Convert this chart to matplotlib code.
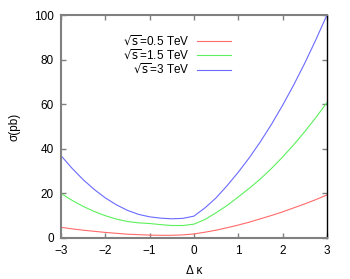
import matplotlib
matplotlib.use("Agg")
import matplotlib.pyplot as plt

plt.rcParams['font.family'] = ['Liberation Sans', 'DejaVu Sans']
plt.rcParams['mathtext.fontset'] = 'dejavusans'

# delta kappa grid and cross sections (pb)
dkappa = [-3.0, -2.75, -2.5, -2.25, -2.0, -1.75, -1.5, -1.25, -1.0, -0.75, -0.5, -0.25, 0.0,
          0.25, 0.5, 0.75, 1.0, 1.25, 1.5, 1.75, 2.0, 2.25, 2.5, 2.75, 3.0]
sigma_05 = [4.8, 4.1, 3.5, 3.0, 2.5, 2.1, 1.7, 1.5, 1.3, 1.2, 1.2, 1.4, 1.8,
            2.6, 3.5, 4.6, 5.8, 7.1, 8.6, 10.1, 11.7, 13.5, 15.3, 17.2, 19.3]
sigma_15 = [20.0, 16.9, 14.2, 11.9, 10.0, 8.5, 7.4, 6.8, 6.5, 6.0, 5.6, 5.6, 6.2,
            8.3, 11.3, 14.6, 18.4, 22.3, 26.5, 31.2, 36.3, 41.8, 47.7, 54.0, 60.7]
sigma_3 = [37.0, 31.3, 26.2, 21.8, 18.0, 14.9, 12.4, 10.6, 9.5, 8.9, 8.6, 8.8, 9.8,
           13.5, 18.0, 23.5, 29.5, 36.0, 43.2, 51.0, 59.5, 68.6, 78.4, 88.9, 100.0]
labels = [r'$\sqrt{\mathrm{s}}$=0.5 TeV', r'$\sqrt{\mathrm{s}}$=1.5 TeV', r'$\sqrt{\mathrm{s}}$=3 TeV']
colors = ['#ff6a6a', '#5cf05c', '#6a6aff']

fig = plt.figure(figsize=(3.5, 2.79), dpi=100)
ax = fig.add_axes([0.174, 0.147, 0.76, 0.799])

for y, lab, c in zip([sigma_05, sigma_15, sigma_3], labels, colors):
    ax.plot(dkappa, y, color=c, lw=0.8, label=lab)

ax.set_xlim(-3, 3)
ax.set_ylim(0, 100)
ax.set_xticks(range(-3, 4))
ax.set_yticks(range(0, 101, 20))
ax.tick_params(direction='in', length=3.5, width=1, color='#808080',
               top=True, right=True, labelsize=8.5, pad=5)

for side in ['left', 'bottom', 'top']:
    ax.spines[side].set_color('#808080')
    ax.spines[side].set_linewidth(1.5)
ax.spines['right'].set_color('black')
ax.spines['right'].set_linewidth(1)

ax.set_xlabel('Δ κ', fontsize=8.5, labelpad=6)
ax.set_ylabel('σ(pb)', fontsize=8.5, labelpad=10)

ax.legend(loc='upper right', bbox_to_anchor=(0.64, 0.915), frameon=False,
          markerfirst=False, fontsize=8.5, handlelength=2.9, handletextpad=0.6,
          labelspacing=0.0, borderpad=0, borderaxespad=0)

fig.savefig('out.png', dpi=100)
